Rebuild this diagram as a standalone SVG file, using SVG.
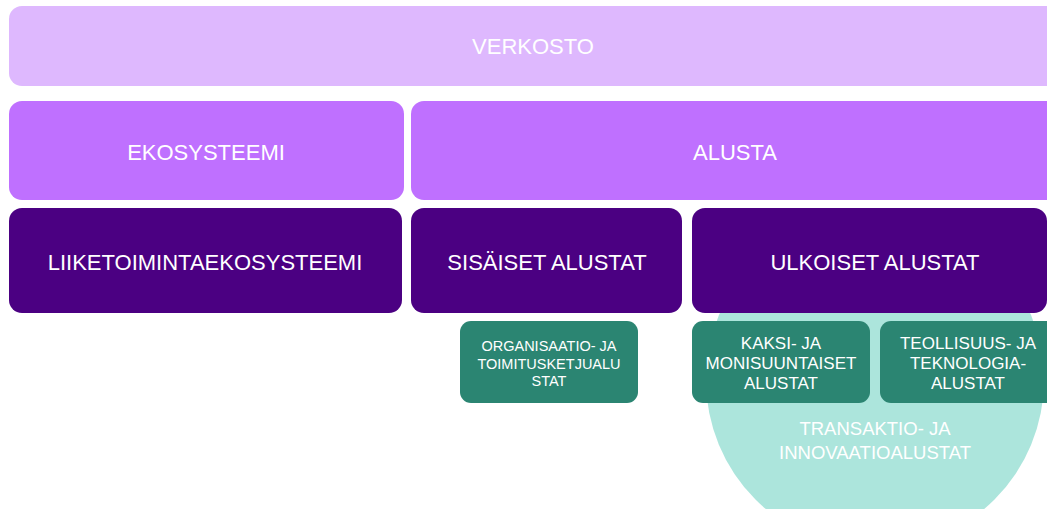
<svg xmlns="http://www.w3.org/2000/svg" width="1047" height="509" viewBox="0 0 1047 509">
<style>
text{font-family:"Liberation Sans",Arial,sans-serif;fill:#fff;text-anchor:middle}
.l1{fill:#DEB8FE}
.l2{fill:#BF70FF}
.l3{fill:#4B0082}
.g{fill:#2B8572}
.big{font-size:22px}
.mid{font-size:17px}
.sm{font-size:14.5px}
.tr{font-size:18.5px}
</style>
<g id="circle"><circle cx="875" cy="380" r="169" fill="#ACE5DC"/>
<text class="tr" x="875" y="435">TRANSAKTIO- JA</text>
<text class="tr" x="875" y="459">INNOVAATIOALUSTAT</text></g>
<g id="verkosto"><rect class="l1" x="9" y="6" width="1060" height="80" rx="13"/><text class="big" x="533" y="54">VERKOSTO</text></g>
<g id="ekosysteemi"><rect class="l2" x="9" y="101" width="395" height="99" rx="13"/><text class="big" x="206" y="160">EKOSYSTEEMI</text></g>
<g id="alusta"><rect class="l2" x="411" y="101" width="660" height="99" rx="13"/><text class="big" x="735" y="160">ALUSTA</text></g>
<g id="liiketoiminta"><rect class="l3" x="9" y="208" width="393" height="105" rx="13"/><text class="big" x="205" y="270">LIIKETOIMINTAEKOSYSTEEMI</text></g>
<g id="sisaiset"><rect class="l3" x="411" y="208" width="271" height="105" rx="13"/><text class="big" x="547" y="270">SISÄISET ALUSTAT</text></g>
<g id="ulkoiset"><rect class="l3" x="692" y="208" width="355" height="105" rx="13"/><text class="big" x="875" y="270">ULKOISET ALUSTAT</text></g>
<g id="organisaatio"><rect class="g" x="460" y="321" width="178" height="82" rx="11"/>
<text class="sm" x="549" y="351">ORGANISAATIO- JA</text><text class="sm" x="549" y="369">TOIMITUSKETJUALU</text><text class="sm" x="549" y="386">STAT</text></g>
<g id="kaksi"><rect class="g" x="692" y="321" width="178" height="82" rx="11"/>
<text class="mid" x="781" y="349">KAKSI- JA</text><text class="mid" x="781" y="369">MONISUUNTAISET</text><text class="mid" x="781" y="389">ALUSTAT</text></g>
<g id="teollisuus"><rect class="g" x="880" y="321" width="178" height="82" rx="11"/>
<text class="mid" x="968" y="349">TEOLLISUUS- JA</text><text class="mid" x="968" y="369">TEKNOLOGIA-</text><text class="mid" x="968" y="389">ALUSTAT</text></g>
<g id="connectors"/>
</svg>
